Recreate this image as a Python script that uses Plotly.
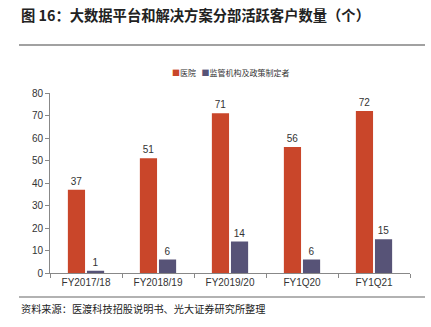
import plotly.graph_objects as go

categories = ["FY2017/18", "FY2018/19", "FY2019/20", "FY1Q20", "FY1Q21"]
hospitals = [37, 51, 71, 56, 72]
regulators = [1, 6, 14, 6, 15]
series_names = ["医院", "监管机构及政策制定者"]
y_ticks = [0, 10, 20, 30, 40, 50, 60, 70, 80]

RED = "#C9462A"
PURPLE = "#575377"
CJK = "Noto Sans CJK SC"
NUM = "Liberation Sans"

fig = go.Figure()
for name, vals, col in [(series_names[0], hospitals, RED), (series_names[1], regulators, PURPLE)]:
    fig.add_trace(go.Bar(
        x=categories, y=vals, name=name,
        marker=dict(color=col, line=dict(width=0)),
        text=[str(v) for v in vals], textposition="outside",
        textfont=dict(family=NUM, size=10, color="#333333"),
        cliponaxis=False, showlegend=False,
    ))

W, H = 431, 327
L, R, T, B = 50, 21, 93, 54
pw, ph = W - L - R, H - T - B


def px_x(p):
    return (p - L) / pw


def px_y(p):
    return (H - B - p) / ph


# compact legend: small coloured squares followed by series names
legend_text = (
    f'<span style="color:{RED}">■</span>{series_names[0]}'
    f'&nbsp;&nbsp;&nbsp;<span style="color:{PURPLE}">■</span>{series_names[1]}'
)

fig.update_layout(
    width=W, height=H,
    margin=dict(l=L, r=R, t=T, b=B),
    paper_bgcolor="white", plot_bgcolor="white",
    barmode="group", bargap=0.47, bargroupgap=0.1,
    xaxis=dict(
        type="category", showline=True, linecolor="#888888", linewidth=1,
        ticks="outside", tickson="boundaries", ticklen=4, tickcolor="#888888",
        tickfont=dict(family=NUM, size=10, color="#333333"),
        showgrid=False,
    ),
    yaxis=dict(
        range=[0, 80], tickvals=y_ticks, showline=True, linecolor="#888888",
        linewidth=1, ticks="outside", ticklen=4, tickcolor="#888888",
        tickfont=dict(family=NUM, size=10, color="#333333"),
        showgrid=False, zeroline=False,
    ),
    annotations=[
        dict(text="<b>图 16：大数据平台和解决方案分部活跃客户数量（个）</b>",
             xref="paper", yref="paper", x=px_x(19), y=px_y(14),
             xanchor="left", yanchor="middle", showarrow=False,
             font=dict(family=CJK, size=14.3, color="#222222")),
        dict(text=legend_text,
             xref="paper", yref="paper", x=px_x(170), y=px_y(72),
             xanchor="left", yanchor="middle", showarrow=False,
             font=dict(family=CJK, size=8, color="#333333")),
        dict(text="资料来源：医渡科技招股说明书、光大证券研究所整理",
             xref="paper", yref="paper", x=px_x(19), y=px_y(308),
             xanchor="left", yanchor="middle", showarrow=False,
             font=dict(family=CJK, size=10.2, color="#222222")),
    ],
    shapes=[
        dict(type="line", xref="paper", yref="paper",
             x0=px_x(19), x1=px_x(425), y0=px_y(45), y1=px_y(45),
             line=dict(color="#444444", width=1.2)),
        dict(type="line", xref="paper", yref="paper",
             x0=px_x(19), x1=px_x(425), y0=px_y(297), y1=px_y(297),
             line=dict(color="#666666", width=1.2)),
    ],
)

fig.write_html("out.html")
